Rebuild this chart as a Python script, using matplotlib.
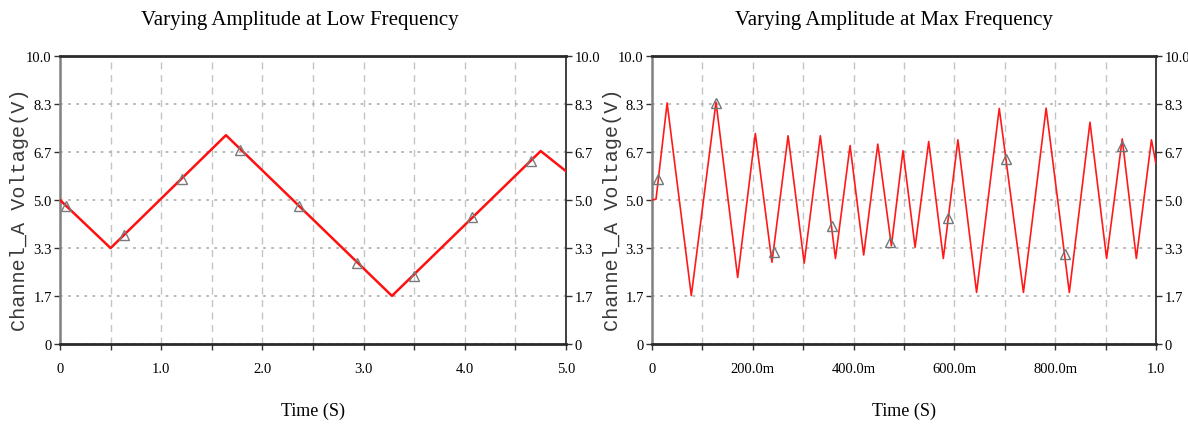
import numpy as np
import matplotlib
matplotlib.use('Agg')
import matplotlib.pyplot as plt
from matplotlib.ticker import MultipleLocator

# 低频三角波 (0~5 s) 的折点
low_t = [0.0, 0.5, 1.64, 3.28, 4.75, 5.0]
low_v = [5.0, 3.33, 7.25, 1.67, 6.70, 6.0]
# 低频曲线上的三角标记
low_mark_t = [0.06, 0.63, 1.21, 1.78, 2.36, 2.93, 3.50, 4.07, 4.65]
low_mark_v = [4.79, 3.78, 5.73, 6.74, 4.79, 2.81, 2.36, 4.41, 6.35]

# 最高频率三角波 (0~1 s) 的折点
max_t = [0.0, 0.008, 0.030, 0.078, 0.127, 0.170, 0.205, 0.238, 0.270, 0.302,
         0.334, 0.364, 0.393, 0.420, 0.448, 0.475, 0.498, 0.522, 0.549, 0.578,
         0.607, 0.644, 0.689, 0.737, 0.782, 0.828, 0.869, 0.902, 0.933, 0.961,
         0.991, 1.0]
max_v = [5.0, 5.03, 8.37, 1.68, 8.40, 2.31, 7.31, 2.84, 7.23, 2.81,
         7.23, 2.97, 6.89, 3.09, 6.94, 3.41, 6.71, 3.36, 7.03, 2.97,
         7.09, 1.79, 8.18, 1.79, 8.19, 1.79, 7.70, 2.97, 7.12, 2.97,
         7.09, 6.25]
max_mark_t = [0.0125, 0.127, 0.242, 0.358, 0.473, 0.588, 0.702, 0.819, 0.933]
max_mark_v = [5.73, 8.37, 3.20, 4.09, 3.55, 4.36, 6.42, 3.13, 6.89]

y_ticks = [0, 10 / 6, 20 / 6, 5.0, 40 / 6, 50 / 6, 10.0]
y_labels = ['0', '1.7', '3.3', '5.0', '6.7', '8.3', '10.0']

low_xticks = [0, 1, 2, 3, 4, 5]
low_xlabels = ['0', '1.0', '2.0', '3.0', '4.0', '5.0']
max_xticks = [0, 0.2, 0.4, 0.6, 0.8, 1.0]
max_xlabels = ['0', '200.0m', '400.0m', '600.0m', '800.0m', '1.0']

serif = 'Liberation Serif'
mono = 'Liberation Mono'

fig = plt.figure(figsize=(11.88, 4.31), dpi=100)
ax1 = fig.add_axes([60 / 1188, 1 - 345 / 431, 506 / 1188, 288 / 431])
ax2 = fig.add_axes([652 / 1188, 1 - 345 / 431, 504 / 1188, 288 / 431])


def style_axes(ax, xmax, xticks, xlabels, minor_step):
    ax.set_xlim(0, xmax)
    ax.set_ylim(0, 10)
    ax.set_xticks(xticks)
    ax.set_xticklabels(xlabels, family=serif, fontsize=10.5)
    ax.xaxis.set_minor_locator(MultipleLocator(minor_step))
    ax.set_yticks(y_ticks)
    ax.set_yticklabels(y_labels, family=serif, fontsize=10.5)
    ax.tick_params(axis='y', which='both', left=True, right=True,
                   labelleft=True, labelright=True, length=4, width=1,
                   color='#333333', pad=2)
    ax.tick_params(axis='x', which='both', bottom=True, length=4, width=1,
                   color='#333333', pad=9)
    # 横向点线, 纵向虚线
    ax.yaxis.grid(True, linestyle=(0, (1.5, 3)), color='#b4b4b4', lw=1.3)
    ax.xaxis.grid(True, which='both', linestyle=(0, (5, 4)),
                  color='#c4c4c4', lw=1)
    ax.set_axisbelow(True)
    for s in ['top', 'bottom']:
        ax.spines[s].set_color('#2a2a2a')
        ax.spines[s].set_linewidth(2)
    ax.spines['left'].set_color('#808080')
    ax.spines['left'].set_linewidth(1.8)
    ax.spines['right'].set_color('#202020')
    ax.spines['right'].set_linewidth(1.2)
    ax.set_xlabel('Time (S)', family=serif, fontsize=13, labelpad=19)
    ax.set_ylabel('Channel_A Voltage(V)', family=mono, fontsize=14.5,
                  color='#3a3a3a', va='center')
    ax.yaxis.set_label_coords(-40 / 506, 0.47)


style_axes(ax1, 5.0, low_xticks, low_xlabels, 0.5)
style_axes(ax2, 1.0, max_xticks, max_xlabels, 0.1)

ax1.plot(low_t, low_v, color='#ff1010', lw=1.8, zorder=3)
ax1.plot(low_mark_t, low_mark_v, ls='none', marker='^', ms=7,
         mfc='none', mec='#7a7a7a', mew=1, zorder=4)

ax2.plot(max_t, max_v, color='#ff1a1a', lw=1.2, zorder=3)
ax2.plot(max_mark_t, max_mark_v, ls='none', marker='^', ms=7,
         mfc='none', mec='#6f7878', mew=1, zorder=4)

fig.text(300 / 1188, 1 - 21 / 431, 'Varying Amplitude at Low Frequency',
         family=serif, fontsize=15, ha='center', va='center')
fig.text(894 / 1188, 1 - 21 / 431, 'Varying Amplitude at Max Frequency',
         family=serif, fontsize=15, ha='center', va='center')

fig.savefig('out.png', dpi=100)
